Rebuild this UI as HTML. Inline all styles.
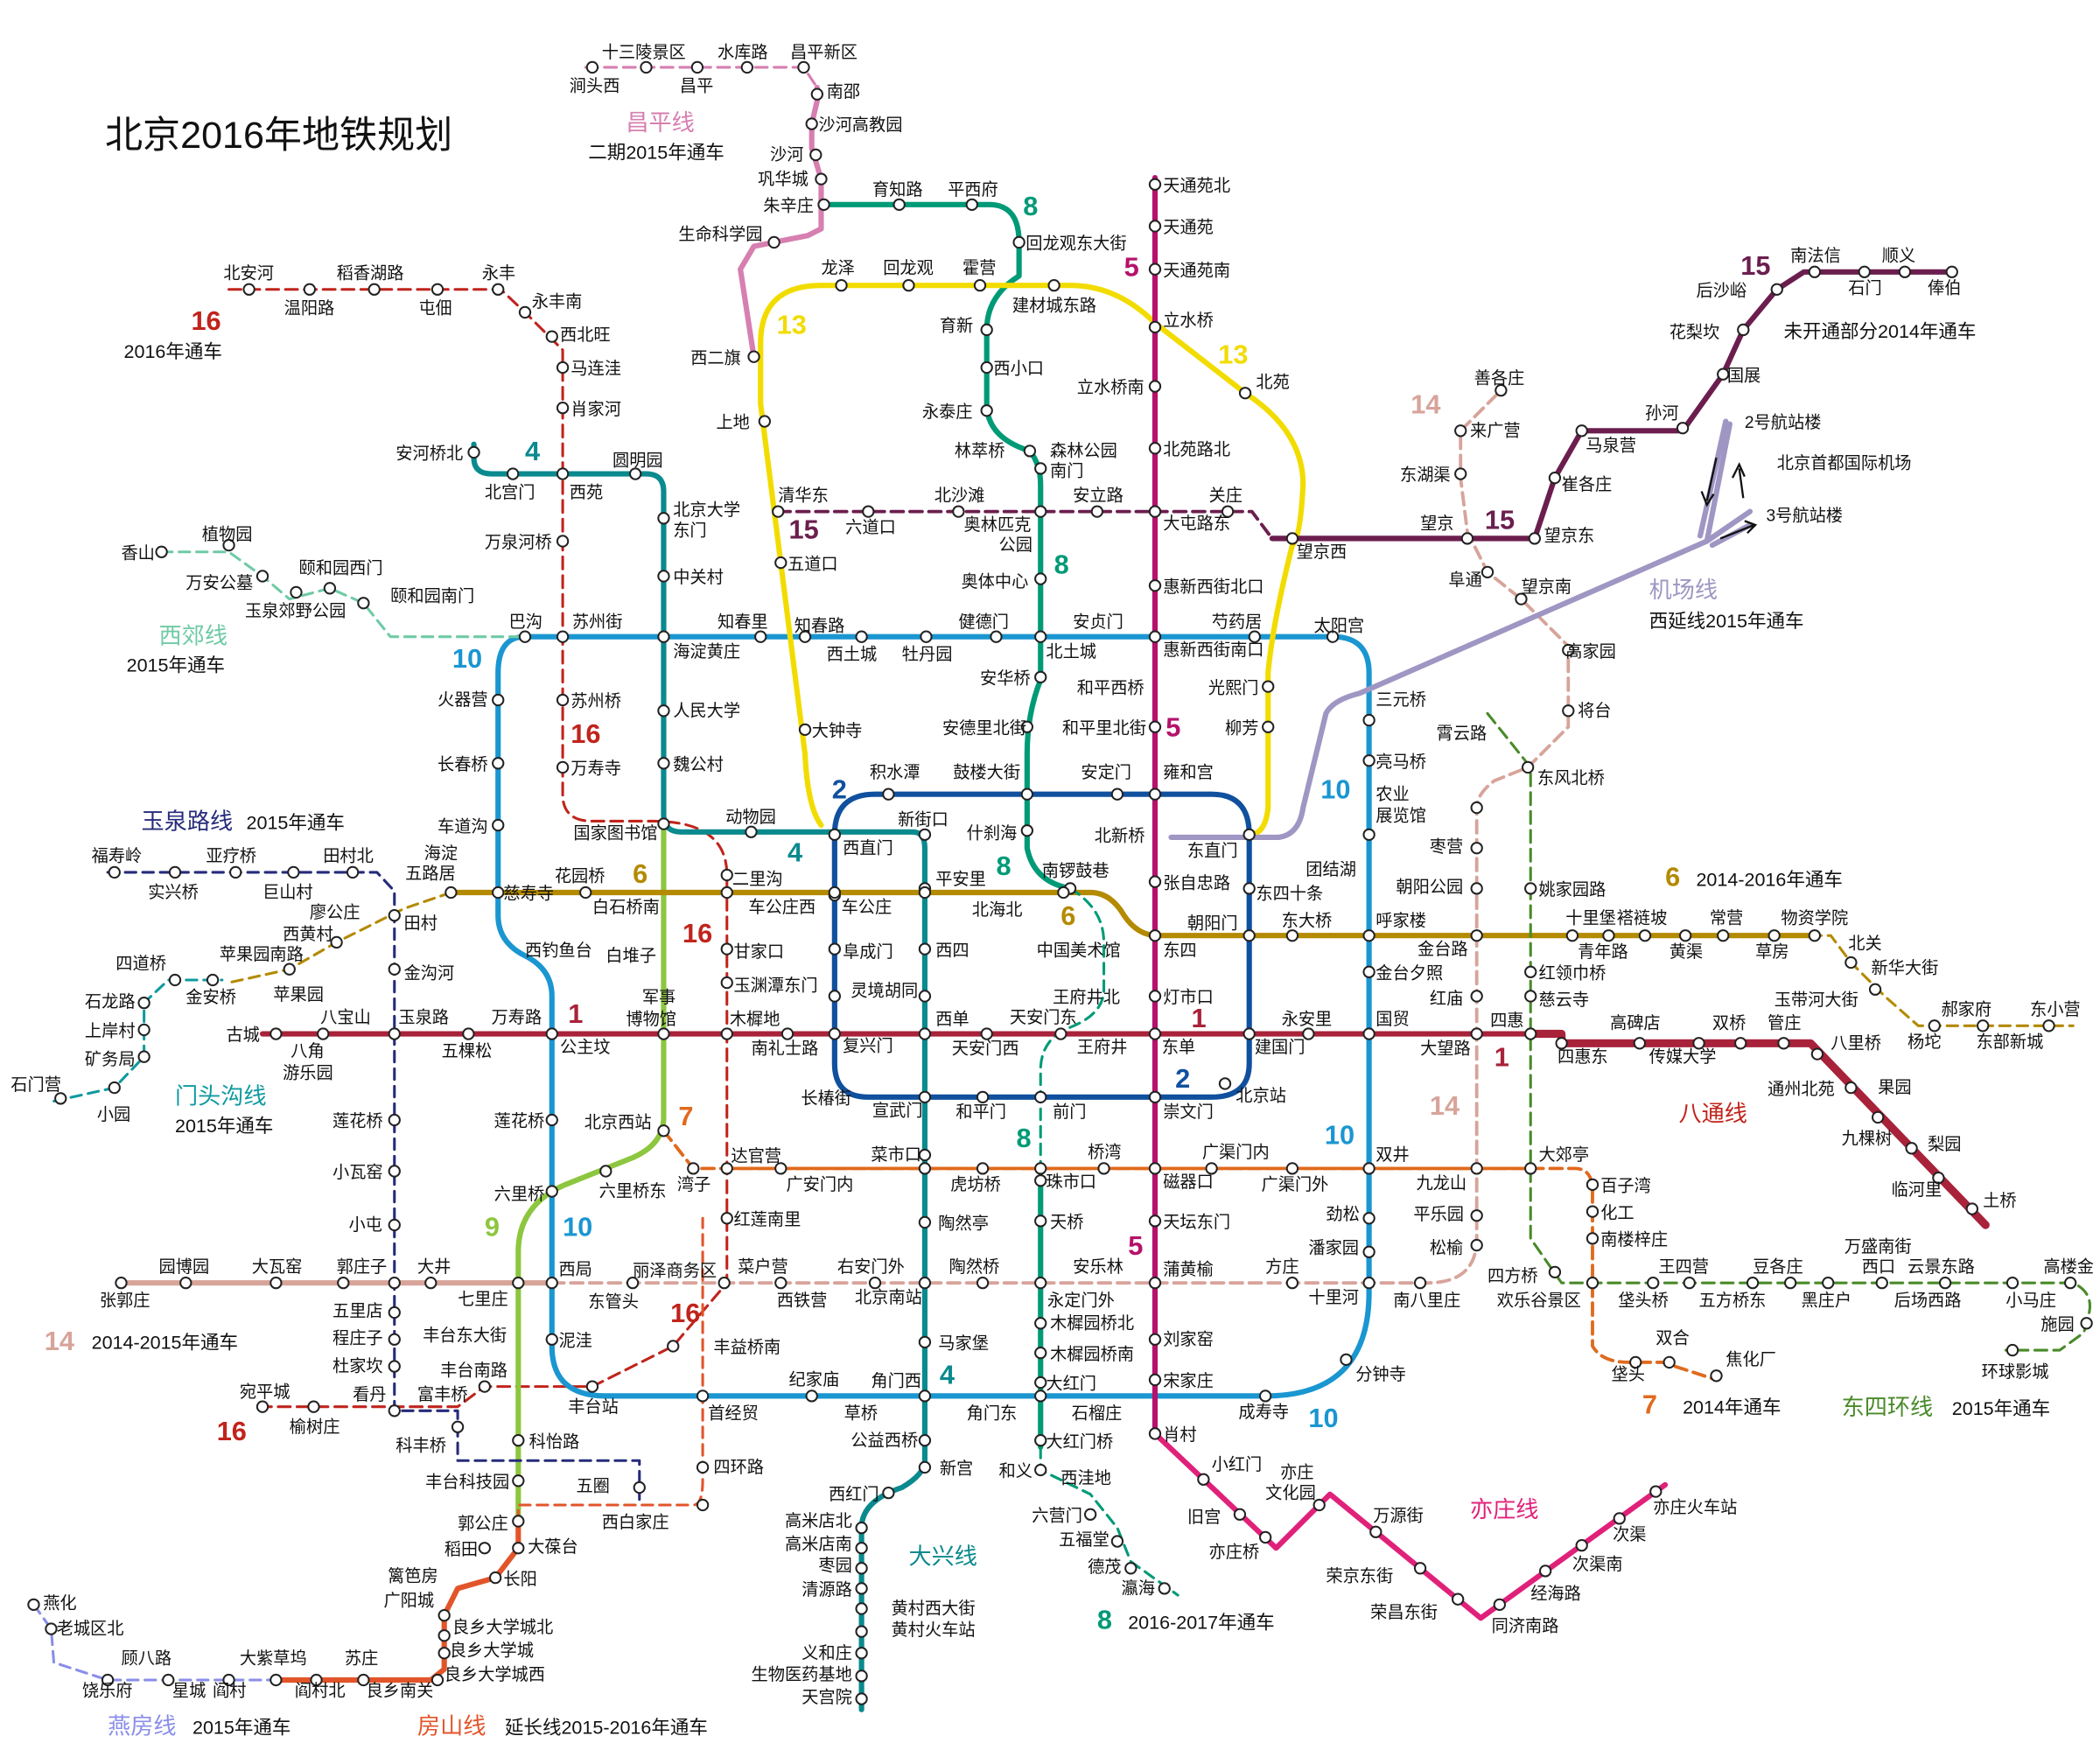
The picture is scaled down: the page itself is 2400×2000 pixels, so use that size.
<!DOCTYPE html>
<html><head><meta charset="utf-8"><style>
html,body{margin:0;padding:0;background:#fff}
svg{display:block}
text{font-family:"Liberation Sans","Noto Sans CJK SC",sans-serif;font-size:12.5px;fill:#111}
.s{fill:#fff;stroke:#222;stroke-width:1.3}
.n text{font-weight:bold;font-size:20px}
.l{fill:none;stroke-linejoin:round;stroke-linecap:round}
text.big{font-size:17px}
.e{text-anchor:end}
</style></head><body>
<svg width="2400" height="2000" viewBox="0 0 1560 1300" xmlns="http://www.w3.org/2000/svg">
<rect width="1560" height="1300" fill="#fff"/>
<text x="78" y="110" style="font-size:28px">北京2016年地铁规划</text>

<!-- 14 dashed middle/east -->
<path class="l" stroke="#d7a49a" stroke-width="2.5" stroke-dasharray="9,5" d="M410,953 H1060 Q1097,953 1097,920 V600 Q1097,590 1110,580 L1135,570 L1165,540 V480 L1130,445 L1105,425 L1090,395 L1085,355 V320 L1115,290"/>
<path class="l" stroke="#d7a49a" stroke-width="4" d="M90,953 H410"/>
<!-- 16 dashed -->
<path class="l" stroke="#c0241c" stroke-width="2" stroke-dasharray="9,5" d="M170,215 H372 L390,232 L418,260 V590 Q418,610 440,610 H485 Q540,610 540,650 V953 L500,1000 L440,1030 H360 L340,1045 H195"/>
<!-- 10 loop -->
<path class="l" stroke="#1a96d1" stroke-width="4" d="M390,473 H990 Q1017,473 1017,500 V960 Q1017,1037 940,1037 H450 Q410,1037 410,1000 V740 Q410,720 390,710 Q370,700 370,680 V500 Q370,473 390,473"/>
<!-- 2 loop -->
<path class="l" stroke="#10509e" stroke-width="4" d="M650,590 H900 Q928,590 928,620 V790 Q928,815 900,815 H645 Q620,815 620,790 V620 Q620,590 650,590"/>
<!-- 9 -->
<path class="l" stroke="#8dc63f" stroke-width="4" d="M493,612 V830 Q493,850 470,860 L420,880 Q385,895 385,930 V1130"/>
<!-- 4 -->
<path class="l" stroke="#0a8a8e" stroke-width="4" d="M352,330 V340 Q352,352 365,352 H480 Q493,352 493,365 V605 Q493,618 506,618 H678 Q687,618 687,630 V1085 Q687,1095 670,1105 Q640,1115 640,1135 V1270"/>
<!-- 6 -->
<path class="l" stroke="#b38a00" stroke-width="4" d="M335,663 H810 Q825,663 835,680 Q845,695 860,695 H1345"/>
<path class="l" stroke="#b38a00" stroke-width="2" stroke-dasharray="8,5" d="M335,663 L300,675 L250,700 L215,720 L170,730 M1345,695 H1360 L1375,715 L1400,740 L1425,762 H1540"/>
<!-- 7 -->
<path class="l" stroke="#e06a1e" stroke-width="2.5" stroke-dasharray="9,5" d="M493,840 L515,868 H1170 Q1183,868 1183,885 V1000 Q1190,1012 1210,1012 H1235 L1275,1025"/>
<path class="l" stroke="#e06a1e" stroke-width="2.5" d="M540,868 H1137"/>
<!-- 8 -->
<path class="l" stroke="#009a77" stroke-width="4" d="M612,152 H735 Q757,152 757,180 V205 Q733,220 733,245 V300 Q733,325 765,335 Q773,345 773,360 V505 Q763,530 763,560 V630 Q768,655 795,660"/>
<path class="l" stroke="#009a77" stroke-width="2" stroke-dasharray="8,5" d="M795,660 Q820,675 820,700 V735 Q820,755 790,765 Q773,775 773,795 V877"/>
<path class="l" stroke="#009a77" stroke-width="4" d="M773,877 V1075"/>
<path class="l" stroke="#009a77" stroke-width="2" stroke-dasharray="8,5" d="M773,1075 V1092 L810,1110 L830,1135 L840,1160 L875,1185"/>
<!-- 13 -->
<path class="l" stroke="#f2dc00" stroke-width="4" d="M610,613 Q600,600 598,560 L580,418 L565,300 V255 Q565,212 610,212 H795 Q830,212 858,240 L925,292 Q968,320 968,360 Q966,400 960,405 Q945,465 942,500 V600 Q940,620 928,620"/>
<!-- 5 -->
<path class="l" stroke="#b5126b" stroke-width="4" d="M858,132 V1065"/>
<!-- yizhuang -->
<path class="l" stroke="#e0217a" stroke-width="4" d="M858,1065 L948,1150 L988,1110 L1100,1202 L1237,1103"/>
<!-- 1 -->
<path class="l" stroke="#a8223a" stroke-width="4" d="M195,768 H1137"/>
<path class="l" stroke="#a8223a" stroke-width="6" d="M1137,768 H1160 V775 H1345 L1475,910"/>
<!-- 15 -->
<path class="l" stroke="#6b1e4e" stroke-width="2.5" stroke-dasharray="9,5" d="M578,380 H930 L945,400"/>
<path class="l" stroke="#6b1e4e" stroke-width="4" d="M945,400 H1140 L1155,355 L1175,320 H1250 L1280,278 L1295,245 L1320,215 L1340,202 H1450"/>
<!-- airport -->
<path class="l" stroke="#9f96c3" stroke-width="4" d="M870,622 H950 Q965,620 968,600 L985,530 Q990,520 1010,515 L1268,402 L1300,380 M1268,402 L1285,315"/>
<path class="l" stroke="#9f96c3" stroke-width="4" d="M1263,398 L1282,313 M1272,405 L1300,390"/>
<path d="M1275,340 L1268,372 M1264,365 L1268,375 L1273,367 M1295,370 L1292,348 M1287,355 L1292,345 L1296,354 M1278,400 L1303,390 M1296,387 L1304,390 L1298,396" stroke="#111" stroke-width="1.5" fill="none"/>
<!-- changping -->
<path class="l" stroke="#d67fb0" stroke-width="2" stroke-dasharray="9,5" d="M435,50 H597 L607,65"/>
<path class="l" stroke="#d67fb0" stroke-width="4" d="M607,65 V75 L603,92 V110 L610,133 V170 L600,175 L560,183 L550,200 L560,265"/>
<!-- xijiao -->
<path class="l" stroke="#6fcaa5" stroke-width="2" stroke-dasharray="8,5" d="M120,410 H170 L195,428 L215,445 L245,437 L270,448 L290,473 H388"/>
<!-- yuquan -->
<path class="l" stroke="#262b7a" stroke-width="2" stroke-dasharray="8,5" d="M80,648 H280 L293,662 V1048 H340 V1085 H475 V1115"/>
<!-- mentougou -->
<path class="l" stroke="#109aa0" stroke-width="2" stroke-dasharray="8,5" d="M40,818 L85,808 L107,785 V745 L125,728 H165"/>
<!-- fangshan -->
<path class="l" stroke="#e2552a" stroke-width="4" d="M385,1130 V1150 L368,1172 L340,1180 L330,1200 V1240 L320,1248 H205"/>
<path class="l" stroke="#e2552a" stroke-width="2" stroke-dasharray="8,5" d="M385,1130 V1118 Q390,1118 515,1118 Q522,1118 522,1100 V905"/>
<!-- yanfang -->
<path class="l" stroke="#8a8ee8" stroke-width="2" stroke-dasharray="8,5" d="M25,1192 L38,1210 L40,1235 L80,1248 H205"/>
<!-- east 4 ring -->
<path class="l" stroke="#4a8a2a" stroke-width="2" stroke-dasharray="9,5" d="M1105,530 L1137,570 V920 L1160,953 H1540 Q1555,960 1552,975 L1548,990 L1530,1003 H1490"/>

<!-- STATIONS -->
<g class="s">
<circle cx="440" cy="50" r="4"/><circle cx="480" cy="50" r="4"/><circle cx="518" cy="50" r="4"/><circle cx="555" cy="50" r="4"/><circle cx="597" cy="50" r="4"/>
<circle cx="607" cy="70" r="4"/><circle cx="603" cy="92" r="4"/><circle cx="606" cy="115" r="4"/><circle cx="610" cy="133" r="4"/><circle cx="612" cy="152" r="4"/><circle cx="575" cy="180" r="4"/>
<circle cx="668" cy="152" r="4"/><circle cx="722" cy="152" r="4"/><circle cx="757" cy="180" r="4"/>
<circle cx="185" cy="215" r="4"/><circle cx="230" cy="215" r="4"/><circle cx="278" cy="215" r="4"/><circle cx="325" cy="215" r="4"/><circle cx="370" cy="215" r="4"/><circle cx="390" cy="232" r="4"/><circle cx="410" cy="250" r="4"/><circle cx="418" cy="273" r="4"/><circle cx="418" cy="303" r="4"/><circle cx="418" cy="402" r="4"/><circle cx="418" cy="520" r="4"/><circle cx="418" cy="570" r="4"/>
<circle cx="352" cy="336" r="4"/><circle cx="381" cy="352" r="4"/><circle cx="418" cy="352" r="4"/><circle cx="472" cy="352" r="4"/><circle cx="493" cy="385" r="4"/><circle cx="493" cy="428" r="4"/><circle cx="493" cy="528" r="4"/><circle cx="493" cy="567" r="4"/><circle cx="493" cy="612" r="4"/><circle cx="558" cy="618" r="4"/><circle cx="687" cy="620" r="4"/>
<circle cx="625" cy="212" r="4"/><circle cx="675" cy="212" r="4"/><circle cx="728" cy="212" r="4"/><circle cx="783" cy="212" r="4"/><circle cx="858" cy="243" r="4"/><circle cx="925" cy="292" r="4"/><circle cx="960" cy="400" r="4"/><circle cx="560" cy="265" r="4"/><circle cx="568" cy="313" r="4"/><circle cx="578" cy="380" r="4"/><circle cx="580" cy="418" r="4"/><circle cx="598" cy="542" r="4"/>
<circle cx="733" cy="245" r="4"/><circle cx="733" cy="273" r="4"/><circle cx="733" cy="305" r="4"/><circle cx="765" cy="335" r="4"/><circle cx="773" cy="348" r="4"/><circle cx="773" cy="380" r="4"/><circle cx="773" cy="430" r="4"/><circle cx="773" cy="473" r="4"/><circle cx="773" cy="503" r="4"/><circle cx="763" cy="540" r="4"/><circle cx="763" cy="590" r="4"/><circle cx="763" cy="617" r="4"/><circle cx="795" cy="660" r="4"/>
<circle cx="645" cy="380" r="4"/><circle cx="712" cy="380" r="4"/><circle cx="815" cy="380" r="4"/><circle cx="858" cy="380" r="4"/><circle cx="912" cy="380" r="4"/><circle cx="1090" cy="400" r="4"/><circle cx="1140" cy="400" r="4"/><circle cx="1155" cy="355" r="4"/><circle cx="1175" cy="320" r="4"/><circle cx="1250" cy="318" r="4"/><circle cx="1280" cy="278" r="4"/><circle cx="1295" cy="245" r="4"/><circle cx="1320" cy="215" r="4"/><circle cx="1348" cy="202" r="4"/><circle cx="1385" cy="202" r="4"/><circle cx="1415" cy="202" r="4"/><circle cx="1450" cy="202" r="4"/>
<circle cx="858" cy="137" r="4"/><circle cx="858" cy="168" r="4"/><circle cx="858" cy="200" r="4"/><circle cx="858" cy="287" r="4"/><circle cx="858" cy="333" r="4"/><circle cx="858" cy="435" r="4"/><circle cx="858" cy="473" r="4"/><circle cx="858" cy="540" r="4"/><circle cx="858" cy="590" r="4"/><circle cx="858" cy="655" r="4"/><circle cx="858" cy="695" r="4"/><circle cx="858" cy="740" r="4"/><circle cx="858" cy="768" r="4"/><circle cx="858" cy="815" r="4"/><circle cx="858" cy="868" r="4"/><circle cx="858" cy="907" r="4"/><circle cx="858" cy="953" r="4"/><circle cx="858" cy="995" r="4"/><circle cx="858" cy="1025" r="4"/><circle cx="858" cy="1065" r="4"/>
<circle cx="894" cy="1099" r="4"/><circle cx="921" cy="1125" r="4"/><circle cx="940" cy="1142" r="4"/><circle cx="980" cy="1118" r="4"/><circle cx="1022" cy="1138" r="4"/><circle cx="1055" cy="1165" r="4"/><circle cx="1083" cy="1188" r="4"/><circle cx="1114" cy="1192" r="4"/><circle cx="1148" cy="1167" r="4"/><circle cx="1175" cy="1148" r="4"/><circle cx="1203" cy="1128" r="4"/><circle cx="1230" cy="1108" r="4"/>
<circle cx="205" cy="768" r="4"/><circle cx="240" cy="768" r="4"/><circle cx="293" cy="768" r="4"/><circle cx="348" cy="768" r="4"/><circle cx="410" cy="768" r="4"/><circle cx="493" cy="768" r="4"/><circle cx="540" cy="768" r="4"/><circle cx="585" cy="768" r="4"/><circle cx="620" cy="768" r="4"/><circle cx="687" cy="768" r="4"/><circle cx="733" cy="768" r="4"/><circle cx="788" cy="768" r="4"/><circle cx="928" cy="768" r="4"/><circle cx="972" cy="768" r="4"/><circle cx="1017" cy="768" r="4"/><circle cx="1097" cy="768" r="4"/><circle cx="1137" cy="768" r="4"/>
<circle cx="1160" cy="775" r="4"/><circle cx="1218" cy="775" r="4"/><circle cx="1262" cy="775" r="4"/><circle cx="1293" cy="775" r="4"/><circle cx="1325" cy="775" r="4"/><circle cx="1350" cy="783" r="4"/><circle cx="1375" cy="808" r="4"/><circle cx="1395" cy="830" r="4"/><circle cx="1420" cy="853" r="4"/><circle cx="1440" cy="875" r="4"/><circle cx="1465" cy="898" r="4"/>
<circle cx="390" cy="473" r="4"/><circle cx="418" cy="473" r="4"/><circle cx="493" cy="473" r="4"/><circle cx="565" cy="473" r="4"/><circle cx="598" cy="473" r="4"/><circle cx="640" cy="473" r="4"/><circle cx="688" cy="473" r="4"/><circle cx="740" cy="473" r="4"/><circle cx="932" cy="473" r="4"/><circle cx="990" cy="473" r="4"/>
<circle cx="370" cy="520" r="4"/><circle cx="370" cy="567" r="4"/><circle cx="370" cy="613" r="4"/><circle cx="370" cy="663" r="4"/><circle cx="410" cy="832" r="4"/><circle cx="410" cy="885" r="4"/><circle cx="410" cy="953" r="4"/><circle cx="410" cy="995" r="4"/><circle cx="440" cy="1030" r="4"/><circle cx="522" cy="1037" r="4"/><circle cx="603" cy="1037" r="4"/><circle cx="687" cy="1037" r="4"/><circle cx="773" cy="1037" r="4"/><circle cx="940" cy="1037" r="4"/><circle cx="1000" cy="1010" r="4"/>
<circle cx="1017" cy="535" r="4"/><circle cx="1017" cy="565" r="4"/><circle cx="1017" cy="620" r="4"/><circle cx="1017" cy="695" r="4"/><circle cx="1017" cy="722" r="4"/><circle cx="1017" cy="868" r="4"/><circle cx="1017" cy="905" r="4"/><circle cx="1017" cy="930" r="4"/><circle cx="1017" cy="953" r="4"/>
<circle cx="942" cy="510" r="4"/><circle cx="942" cy="540" r="4"/><circle cx="928" cy="620" r="4"/><circle cx="928" cy="660" r="4"/><circle cx="928" cy="695" r="4"/><circle cx="620" cy="620" r="4"/><circle cx="620" cy="665" r="4"/><circle cx="620" cy="705" r="4"/><circle cx="620" cy="740" r="4"/><circle cx="660" cy="590" r="4"/><circle cx="830" cy="590" r="4"/><circle cx="730" cy="815" r="4"/><circle cx="773" cy="815" r="4"/><circle cx="910" cy="805" r="4"/>
<circle cx="687" cy="660" r="4"/><circle cx="687" cy="705" r="4"/><circle cx="687" cy="740" r="4"/><circle cx="687" cy="815" r="4"/><circle cx="687" cy="858" r="4"/><circle cx="687" cy="908" r="4"/><circle cx="687" cy="953" r="4"/><circle cx="687" cy="997" r="4"/><circle cx="687" cy="1070" r="4"/><circle cx="687" cy="1090" r="4"/><circle cx="660" cy="1109" r="4"/><circle cx="640" cy="1135" r="4"/><circle cx="640" cy="1150" r="4"/><circle cx="640" cy="1165" r="4"/><circle cx="640" cy="1180" r="4"/><circle cx="640" cy="1195" r="4"/><circle cx="640" cy="1212" r="4"/><circle cx="640" cy="1228" r="4"/><circle cx="640" cy="1245" r="4"/><circle cx="640" cy="1262" r="4"/>
<circle cx="335" cy="663" r="4"/><circle cx="435" cy="663" r="4"/><circle cx="540" cy="663" r="4"/><circle cx="620" cy="663" r="4"/><circle cx="687" cy="663" r="4"/><circle cx="790" cy="663" r="4"/><circle cx="960" cy="695" r="4"/><circle cx="1097" cy="695" r="4"/><circle cx="1168" cy="695" r="4"/><circle cx="1195" cy="695" r="4"/><circle cx="1222" cy="695" r="4"/><circle cx="1252" cy="695" r="4"/><circle cx="1280" cy="695" r="4"/><circle cx="1318" cy="695" r="4"/><circle cx="1348" cy="695" r="4"/><circle cx="1375" cy="715" r="4"/><circle cx="1393" cy="735" r="4"/><circle cx="1437" cy="762" r="4"/><circle cx="1473" cy="762" r="4"/><circle cx="1522" cy="762" r="4"/>
<circle cx="293" cy="680" r="4"/><circle cx="293" cy="720" r="4"/><circle cx="293" cy="832" r="4"/><circle cx="293" cy="870" r="4"/><circle cx="293" cy="910" r="4"/><circle cx="293" cy="953" r="4"/><circle cx="293" cy="975" r="4"/><circle cx="293" cy="995" r="4"/><circle cx="293" cy="1015" r="4"/><circle cx="293" cy="1048" r="4"/><circle cx="340" cy="1060" r="4"/><circle cx="475" cy="1105" r="4"/>
<circle cx="85" cy="648" r="4"/><circle cx="130" cy="648" r="4"/><circle cx="175" cy="648" r="4"/><circle cx="218" cy="648" r="4"/><circle cx="262" cy="648" r="4"/><circle cx="250" cy="700" r="4"/><circle cx="215" cy="720" r="4"/>
<circle cx="120" cy="410" r="4"/><circle cx="170" cy="405" r="4"/><circle cx="195" cy="428" r="4"/><circle cx="220" cy="440" r="4"/><circle cx="245" cy="437" r="4"/><circle cx="270" cy="448" r="4"/>
<circle cx="45" cy="816" r="4"/><circle cx="85" cy="808" r="4"/><circle cx="107" cy="785" r="4"/><circle cx="107" cy="765" r="4"/><circle cx="107" cy="745" r="4"/><circle cx="130" cy="728" r="4"/><circle cx="158" cy="728" r="4"/>
<circle cx="90" cy="953" r="4"/><circle cx="138" cy="953" r="4"/><circle cx="205" cy="953" r="4"/><circle cx="255" cy="953" r="4"/><circle cx="320" cy="953" r="4"/><circle cx="385" cy="953" r="4"/><circle cx="470" cy="953" r="4"/><circle cx="538" cy="953" r="4"/><circle cx="580" cy="953" r="4"/><circle cx="650" cy="953" r="4"/><circle cx="730" cy="953" r="4"/><circle cx="773" cy="953" r="4"/><circle cx="960" cy="953" r="4"/><circle cx="1055" cy="953" r="4"/>
<circle cx="1097" cy="600" r="4"/><circle cx="1097" cy="630" r="4"/><circle cx="1097" cy="660" r="4"/><circle cx="1097" cy="740" r="4"/><circle cx="1097" cy="868" r="4"/><circle cx="1097" cy="903" r="4"/><circle cx="1097" cy="925" r="4"/><circle cx="1135" cy="570" r="4"/><circle cx="1165" cy="528" r="4"/><circle cx="1165" cy="483" r="4"/><circle cx="1130" cy="445" r="4"/><circle cx="1105" cy="425" r="4"/><circle cx="1085" cy="352" r="4"/><circle cx="1085" cy="320" r="4"/><circle cx="1115" cy="290" r="4"/>
<circle cx="1137" cy="660" r="4"/><circle cx="1137" cy="722" r="4"/><circle cx="1137" cy="740" r="4"/><circle cx="1137" cy="868" r="4"/><circle cx="1155" cy="945" r="4"/><circle cx="1183" cy="953" r="4"/><circle cx="1228" cy="953" r="4"/><circle cx="1255" cy="953" r="4"/><circle cx="1302" cy="953" r="4"/><circle cx="1330" cy="953" r="4"/><circle cx="1358" cy="953" r="4"/><circle cx="1398" cy="953" r="4"/><circle cx="1445" cy="953" r="4"/><circle cx="1495" cy="953" r="4"/><circle cx="1538" cy="953" r="4"/><circle cx="1550" cy="983" r="4"/><circle cx="1495" cy="1003" r="4"/>
<circle cx="1183" cy="880" r="4"/><circle cx="1183" cy="900" r="4"/><circle cx="1183" cy="920" r="4"/><circle cx="1215" cy="1012" r="4"/><circle cx="1240" cy="1012" r="4"/><circle cx="1275" cy="1022" r="4"/>
<circle cx="540" cy="650" r="4"/><circle cx="540" cy="705" r="4"/><circle cx="540" cy="730" r="4"/><circle cx="540" cy="868" r="4"/><circle cx="540" cy="905" r="4"/><circle cx="500" cy="1000" r="4"/><circle cx="360" cy="1030" r="4"/><circle cx="233" cy="1045" r="4"/><circle cx="195" cy="1045" r="4"/>
<circle cx="580" cy="868" r="4"/><circle cx="687" cy="868" r="4"/><circle cx="730" cy="868" r="4"/><circle cx="773" cy="868" r="4"/><circle cx="820" cy="868" r="4"/><circle cx="900" cy="868" r="4"/><circle cx="960" cy="868" r="4"/><circle cx="515" cy="868" r="4"/><circle cx="493" cy="840" r="4"/><circle cx="450" cy="870" r="4"/>
<circle cx="773" cy="877" r="4"/><circle cx="773" cy="907" r="4"/><circle cx="773" cy="983" r="4"/><circle cx="773" cy="1005" r="4"/><circle cx="773" cy="1027" r="4"/><circle cx="773" cy="1070" r="4"/><circle cx="773" cy="1092" r="4"/><circle cx="810" cy="1125" r="4"/><circle cx="830" cy="1145" r="4"/><circle cx="840" cy="1165" r="4"/><circle cx="865" cy="1180" r="4"/>
<circle cx="385" cy="1070" r="4"/><circle cx="385" cy="1100" r="4"/><circle cx="385" cy="1130" r="4"/><circle cx="385" cy="1150" r="4"/><circle cx="360" cy="1150" r="4"/><circle cx="368" cy="1172" r="4"/><circle cx="330" cy="1200" r="4"/><circle cx="330" cy="1215" r="4"/><circle cx="330" cy="1228" r="4"/><circle cx="325" cy="1248" r="4"/><circle cx="270" cy="1248" r="4"/><circle cx="235" cy="1248" r="4"/><circle cx="205" cy="1248" r="4"/><circle cx="170" cy="1248" r="4"/><circle cx="125" cy="1248" r="4"/><circle cx="80" cy="1248" r="4"/><circle cx="38" cy="1210" r="4"/><circle cx="25" cy="1192" r="4"/><circle cx="522" cy="1090" r="4"/><circle cx="522" cy="1118" r="4"/>
</g>

<g class="n">
<text x="760" y="160" style="fill:#009a77">8</text>
<text x="835" y="205" style="fill:#b5126b">5</text>
<text x="905" y="270" style="fill:#f2dc00">13</text>
<text x="577" y="248" style="fill:#f2dc00">13</text>
<text x="142" y="245" style="fill:#c0241c">16</text>
<text x="390" y="342" style="fill:#0a8a8e">4</text>
<text x="586" y="400" style="fill:#6b1e4e">15</text>
<text x="1103" y="393" style="fill:#6b1e4e">15</text>
<text x="1293" y="204" style="fill:#6b1e4e">15</text>
<text x="1048" y="307" style="fill:#d7a49a">14</text>
<text x="783" y="426" style="fill:#009a77">8</text>
<text x="336" y="496" style="fill:#1a96d1">10</text>
<text x="424" y="552" style="fill:#c0241c">16</text>
<text x="866" y="547" style="fill:#b5126b">5</text>
<text x="618" y="593" style="fill:#10509e">2</text>
<text x="585" y="640" style="fill:#0a8a8e">4</text>
<text x="981" y="593" style="fill:#1a96d1">10</text>
<text x="740" y="650" style="fill:#009a77">8</text>
<text x="470" y="656" style="fill:#b38a00">6</text>
<text x="788" y="687" style="fill:#b38a00">6</text>
<text x="1237" y="658" style="fill:#b38a00">6</text>
<text x="507" y="700" style="fill:#c0241c">16</text>
<text x="422" y="760" style="fill:#a8223a">1</text>
<text x="885" y="763" style="fill:#a8223a">1</text>
<text x="1110" y="792" style="fill:#a8223a">1</text>
<text x="873" y="808" style="fill:#10509e">2</text>
<text x="1062" y="828" style="fill:#d7a49a">14</text>
<text x="504" y="836" style="fill:#e06a1e">7</text>
<text x="755" y="852" style="fill:#009a77">8</text>
<text x="984" y="850" style="fill:#1a96d1">10</text>
<text x="838" y="932" style="fill:#b5126b">5</text>
<text x="360" y="918" style="fill:#8dc63f">9</text>
<text x="418" y="918" style="fill:#1a96d1">10</text>
<text x="498" y="982" style="fill:#c0241c">16</text>
<text x="698" y="1028" style="fill:#0a8a8e">4</text>
<text x="972" y="1060" style="fill:#1a96d1">10</text>
<text x="33" y="1003" style="fill:#d7a49a">14</text>
<text x="161" y="1070" style="fill:#c0241c">16</text>
<text x="1220" y="1050" style="fill:#e06a1e">7</text>
<text x="815" y="1210" style="fill:#009a77">8</text>
</g>

<text x="465" y="97" class="big" style="fill:#d67fb0">昌平线</text>
<text x="437" y="118" style="font-size:14px">二期2015年通车</text>
<text x="92" y="266" style="font-size:14px">2016年通车</text>
<text x="1325" y="251" style="font-size:14px">未开通部分2014年通车</text>
<text x="1225" y="444" class="big" style="fill:#9f96c3">机场线</text>
<text x="1225" y="466" style="font-size:14px">西延线2015年通车</text>
<text x="118" y="478" class="big" style="fill:#6fcaa5">西郊线</text>
<text x="94" y="499" style="font-size:14px">2015年通车</text>
<text x="105" y="616" class="big" style="fill:#262b7a">玉泉路线</text>
<text x="183" y="616" style="font-size:14px">2015年通车</text>
<text x="1260" y="658" style="font-size:14px">2014-2016年通车</text>
<text x="130" y="820" class="big" style="fill:#109aa0">门头沟线</text>
<text x="130" y="841" style="font-size:14px">2015年通车</text>
<text x="1247" y="833" class="big" style="fill:#c0241c">八通线</text>
<text x="68" y="1002" style="font-size:14px">2014-2015年通车</text>
<text x="1250" y="1050" style="font-size:14px">2014年通车</text>
<text x="1368" y="1051" class="big" style="fill:#4a8a2a">东四环线</text>
<text x="1450" y="1051" style="font-size:14px">2015年通车</text>
<text x="1092" y="1127" class="big" style="fill:#e0217a">亦庄线</text>
<text x="675" y="1162" class="big" style="fill:#0a8a8e">大兴线</text>
<text x="838" y="1210" style="font-size:14px">2016-2017年通车</text>
<text x="80" y="1288" class="big" style="fill:#8a8ee8">燕房线</text>
<text x="143" y="1288" style="font-size:14px">2015年通车</text>
<text x="310" y="1288" class="big" style="fill:#e2552a">房山线</text>
<text x="375" y="1288" style="font-size:14px">延长线2015-2016年通车</text>

<g>
<text x="447" y="43">十三陵景区</text><text x="533" y="43">水库路</text><text x="587" y="43">昌平新区</text>
<text x="423" y="68">涧头西</text><text x="505" y="68">昌平</text>
<text x="614" y="72">南邵</text><text x="608" y="97">沙河高教园</text><text x="572" y="119">沙河</text><text x="563" y="137">巩华城</text><text x="567" y="157">朱辛庄</text><text x="504" y="178">生命科学园</text>
<text x="648" y="145">育知路</text><text x="704" y="145">平西府</text><text x="762" y="185">回龙观东大街</text>
<text x="610" y="203">龙泽</text><text x="656" y="203">回龙观</text><text x="715" y="203">霍营</text><text x="752" y="231">建材城东路</text>
<text x="166" y="207">北安河</text><text x="250" y="207">稻香湖路</text><text x="358" y="207">永丰</text>
<text x="211" y="233">温阳路</text><text x="311" y="233">屯佃</text><text x="395" y="228">永丰南</text><text x="416" y="253">西北旺</text><text x="424" y="278">马连洼</text><text x="424" y="308">肖家河</text>
<text x="864" y="142">天通苑北</text><text x="864" y="173">天通苑</text><text x="864" y="205">天通苑南</text><text x="864" y="242">立水桥</text><text x="800" y="292">立水桥南</text><text x="933" y="288">北苑</text><text x="864" y="338">北苑路北</text>
<text x="698" y="246">育新</text><text x="738" y="278">西小口</text><text x="685" y="310">永泰庄</text><text x="709" y="339">林萃桥</text><text x="780" y="339">森林公园</text><text x="780" y="354">南门</text>
<text x="513" y="270">西二旗</text><text x="532" y="318">上地</text>
<text x="294" y="341">安河桥北</text><text x="360" y="370">北宫门</text><text x="423" y="370">西苑</text><text x="455" y="346">圆明园</text>
<text x="500" y="383">北京大学</text><text x="500" y="398">东门</text><text x="360" y="407">万泉河桥</text><text x="500" y="433">中关村</text>
<text x="578" y="372">清华东</text><text x="628" y="396">六道口</text><text x="585" y="423">五道口</text>
<text x="694" y="372">北沙滩</text><text x="716" y="394">奥林匹克</text><text x="742" y="409">公园</text><text x="797" y="372">安立路</text><text x="864" y="393">大屯路东</text><text x="898" y="372">关庄</text><text x="963" y="414">望京西</text>
<text x="1040" y="357">东湖渠</text><text x="1092" y="324">来广营</text><text x="1095" y="285">善各庄</text><text x="1055" y="393">望京</text><text x="1076" y="435">阜通</text><text x="1130" y="440">望京南</text><text x="1163" y="488">高家园</text><text x="1172" y="532">将台</text><text x="1142" y="582">东风北桥</text><text x="1067" y="549">霄云路</text>
<text x="1147" y="402">望京东</text><text x="1160" y="364">崔各庄</text><text x="1178" y="335">马泉营</text><text x="1222" y="311">孙河</text><text x="1283" y="283">国展</text><text x="1240" y="251">花梨坎</text><text x="1260" y="220">后沙峪</text><text x="1330" y="194">南法信</text><text x="1373" y="218">石门</text><text x="1398" y="194">顺义</text><text x="1432" y="218">俸伯</text>
<text x="1296" y="318">2号航站楼</text><text x="1320" y="348">北京首都国际机场</text><text x="1312" y="387">3号航站楼</text>
<text x="714" y="436">奥体中心</text><text x="90" y="415">香山</text><text x="150" y="401">植物园</text><text x="138" y="437">万安公墓</text><text x="222" y="426">颐和园西门</text><text x="182" y="458">玉泉郊野公园</text><text x="290" y="447">颐和园南门</text>
<text x="378" y="466">巴沟</text><text x="425" y="466">苏州街</text><text x="500" y="488">海淀黄庄</text><text x="533" y="466">知春里</text><text x="590" y="469">知春路</text><text x="614" y="490">西土城</text><text x="670" y="490">牡丹园</text><text x="712" y="466">健德门</text><text x="777" y="488">北土城</text><text x="797" y="466">安贞门</text><text x="864" y="487">惠新西街南口</text><text x="900" y="466">芍药居</text><text x="976" y="469">太阳宫</text>
<text x="325" y="524">火器营</text><text x="325" y="572">长春桥</text><text x="325" y="618">车道沟</text><text x="424" y="525">苏州桥</text><text x="424" y="575">万寿寺</text><text x="500" y="532">人民大学</text><text x="500" y="572">魏公村</text><text x="603" y="547">大钟寺</text>
<text x="728" y="508">安华桥</text><text x="700" y="545">安德里北街</text><text x="800" y="515">和平西桥</text><text x="789" y="545">和平里北街</text><text x="864" y="440">惠新西街北口</text><text x="935" y="515" class="e">光熙门</text><text x="935" y="545" class="e">柳芳</text>
<text x="1022" y="524">三元桥</text><text x="1022" y="570">亮马桥</text><text x="1022" y="594">农业</text><text x="1022" y="610">展览馆</text><text x="970" y="650">团结湖</text><text x="1037" y="663">朝阳公园</text><text x="1062" y="633">枣营</text><text x="1143" y="665">姚家园路</text>
<text x="646" y="578">积水潭</text><text x="708" y="578">鼓楼大街</text><text x="803" y="578">安定门</text><text x="864" y="578">雍和宫</text><text x="667" y="613">新街口</text><text x="718" y="623">什刹海</text><text x="813" y="625">北新桥</text><text x="882" y="636">东直门</text><text x="539" y="611">动物园</text><text x="426" y="623">国家图书馆</text><text x="626" y="634">西直门</text>
<text x="374" y="668">慈寿寺</text><text x="412" y="655">花园桥</text><text x="440" y="678">白石桥南</text><text x="544" y="657">二里沟</text><text x="556" y="678">车公庄西</text><text x="625" y="678">车公庄</text><text x="695" y="657">平安里</text><text x="722" y="680">北海北</text><text x="774" y="651">南锣鼓巷</text><text x="864" y="660">张自忠路</text><text x="882" y="690">朝阳门</text><text x="933" y="668">东四十条</text><text x="952" y="688">东大桥</text><text x="1022" y="688">呼家楼</text><text x="1053" y="709">金台路</text><text x="1022" y="727">金台夕照</text><text x="1062" y="746">红庙</text>
<text x="315" y="638">海淀</text><text x="301" y="653">五路居</text><text x="68" y="640">福寿岭</text><text x="153" y="640">亚疗桥</text><text x="240" y="640">田村北</text><text x="110" y="667">实兴桥</text><text x="195" y="667">巨山村</text><text x="300" y="690">田村</text><text x="230" y="682">廖公庄</text><text x="210" y="698">西黄村</text><text x="163" y="713">苹果园南路</text><text x="300" y="727">金沟河</text><text x="203" y="743">苹果园</text>
<text x="86" y="720">四道桥</text><text x="138" y="745">金安桥</text><text x="63" y="748">石龙路</text><text x="63" y="770">上岸村</text><text x="63" y="791">矿务局</text><text x="8" y="810">石门营</text><text x="72" y="832">小园</text>
<text x="390" y="710">西钓鱼台</text><text x="450" y="714">白堆子</text><text x="545" y="711">甘家口</text><text x="626" y="711">阜成门</text><text x="695" y="710">西四</text><text x="545" y="736">玉渊潭东门</text><text x="632" y="740">灵境胡同</text><text x="770" y="710">中国美术馆</text><text x="864" y="710">东四</text><text x="782" y="745">王府井北</text><text x="864" y="745">灯市口</text>
<text x="168" y="773">古城</text><text x="238" y="760">八宝山</text><text x="296" y="760">玉泉路</text><text x="216" y="785">八角</text><text x="210" y="801">游乐园</text><text x="328" y="785">五棵松</text><text x="365" y="760">万寿路</text><text x="416" y="782">公主坟</text><text x="477" y="745">军事</text><text x="465" y="761">博物馆</text><text x="542" y="761">木樨地</text><text x="558" y="783">南礼士路</text><text x="626" y="781">复兴门</text><text x="695" y="761">西单</text><text x="707" y="783">天安门西</text><text x="750" y="760">天安门东</text><text x="800" y="782">王府井</text><text x="863" y="782">东单</text><text x="932" y="782">建国门</text><text x="952" y="761">永安里</text><text x="1022" y="761">国贸</text><text x="1055" y="783">大望路</text><text x="1107" y="762">四惠</text>
<text x="1157" y="789">四惠东</text><text x="1196" y="764">高碑店</text><text x="1225" y="789">传媒大学</text><text x="1272" y="764">双桥</text><text x="1313" y="764">管庄</text><text x="1318" y="747">玉带河大街</text><text x="1360" y="779">八里桥</text><text x="1313" y="813">通州北苑</text><text x="1395" y="812">果园</text><text x="1368" y="850">九棵树</text><text x="1432" y="854">梨园</text><text x="1405" y="888">临河里</text><text x="1473" y="896">土桥</text>
<text x="1163" y="686">十里堡</text><text x="1201" y="686">褡裢坡</text><text x="1270" y="686">常营</text><text x="1323" y="686">物资学院</text><text x="1172" y="711">青年路</text><text x="1240" y="711">黄渠</text><text x="1304" y="711">草房</text><text x="1373" y="705">北关</text><text x="1390" y="723">新华大街</text><text x="1442" y="754">郝家府</text><text x="1508" y="754">东小营</text><text x="1417" y="778">杨坨</text><text x="1468" y="778">东部新城</text><text x="1143" y="727">红领巾桥</text><text x="1143" y="747">慈云寺</text>
<text x="595" y="820">长椿街</text><text x="648" y="829">宣武门</text><text x="710" y="830">和平门</text><text x="782" y="830">前门</text><text x="864" y="830">崇文门</text><text x="918" y="818">北京站</text>
<text x="247" y="837">莲花桥</text><text x="367" y="837">莲花桥</text><text x="434" y="838">北京西站</text><text x="247" y="875">小瓦窑</text><text x="259" y="914">小屯</text><text x="367" y="891">六里桥</text><text x="445" y="889">六里桥东</text><text x="503" y="884">湾子</text><text x="543" y="863">达官营</text><text x="584" y="884">广安门内</text><text x="647" y="862">菜市口</text><text x="706" y="884">虎坊桥</text><text x="777" y="882">珠市口</text><text x="808" y="860">桥湾</text><text x="864" y="882">磁器口</text><text x="893" y="860">广渠门内</text><text x="937" y="884">广渠门外</text><text x="1022" y="862">双井</text><text x="1052" y="883">九龙山</text><text x="1143" y="862">大郊亭</text>
<text x="545" y="910">红莲南里</text><text x="697" y="913">陶然亭</text><text x="780" y="912">天桥</text><text x="864" y="912">天坛东门</text><text x="985" y="906">劲松</text><text x="1050" y="906">平乐园</text><text x="972" y="931">潘家园</text><text x="1062" y="931">松榆</text><text x="1189" y="885">百子湾</text><text x="1189" y="905">化工</text><text x="1189" y="925">南楼梓庄</text>
<text x="118" y="945">园博园</text><text x="187" y="945">大瓦窑</text><text x="250" y="945">郭庄子</text><text x="310" y="945">大井</text><text x="74" y="970">张郭庄</text><text x="340" y="969">七里庄</text><text x="415" y="947">西局</text><text x="437" y="971">东管头</text><text x="470" y="948">丽泽商务区</text><text x="548" y="945">菜户营</text><text x="577" y="970">西铁营</text><text x="622" y="945">右安门外</text><text x="635" y="968">北京南站</text><text x="705" y="945">陶然桥</text><text x="797" y="945">安乐林</text><text x="864" y="947">蒲黄榆</text><text x="940" y="945">方庄</text><text x="972" y="968">十里河</text><text x="1035" y="970">南八里庄</text><text x="1105" y="952">四方桥</text><text x="1112" y="970">欢乐谷景区</text>
<text x="1232" y="945">王四营</text><text x="1302" y="945">豆各庄</text><text x="1370" y="930">万盛南街</text><text x="1383" y="945">西口</text><text x="1417" y="945">云景东路</text><text x="1518" y="945">高楼金</text><text x="1202" y="970">垡头桥</text><text x="1262" y="970">五方桥东</text><text x="1338" y="970">黑庄户</text><text x="1407" y="970">后场西路</text><text x="1490" y="970">小马庄</text><text x="1516" y="988">施园</text><text x="1472" y="1023">环球影城</text>
<text x="1230" y="998">双合</text><text x="1197" y="1025">垡头</text><text x="1282" y="1014">焦化厂</text>
<text x="247" y="978">五里店</text><text x="247" y="998">程庄子</text><text x="247" y="1019">杜家坎</text><text x="314" y="996">丰台东大街</text><text x="327" y="1022">丰台南路</text><text x="415" y="1000">泥洼</text><text x="530" y="1005">丰益桥南</text><text x="178" y="1038">宛平城</text><text x="215" y="1064">榆树庄</text><text x="262" y="1040">看丹</text><text x="310" y="1040">富丰桥</text><text x="422" y="1049">丰台站</text><text x="526" y="1054">首经贸</text><text x="586" y="1029">纪家庙</text><text x="647" y="1030">角门西</text><text x="627" y="1054">草桥</text><text x="718" y="1054">角门东</text><text x="777" y="1032">大红门</text><text x="796" y="1054">石榴庄</text><text x="864" y="1030">宋家庄</text><text x="920" y="1053">成寿寺</text><text x="1007" y="1025">分钟寺</text><text x="777" y="1075">大红门桥</text>
<text x="697" y="1002">马家堡</text><text x="864" y="999">刘家窑</text><text x="778" y="970">永定门外</text><text x="780" y="987">木樨园桥北</text><text x="780" y="1010">木樨园桥南</text><text x="864" y="1070">肖村</text>
<text x="294" y="1078">科丰桥</text><text x="393" y="1075">科怡路</text><text x="316" y="1105">丰台科技园</text><text x="428" y="1108">五圈</text><text x="447" y="1135">西白家庄</text><text x="530" y="1094">四环路</text><text x="340" y="1136">郭公庄</text><text x="392" y="1153">大葆台</text><text x="330" y="1155">稻田</text><text x="374" y="1177">长阳</text><text x="288" y="1175">篱笆房</text><text x="285" y="1193">广阳城</text><text x="336" y="1213">良乡大学城北</text><text x="334" y="1230">良乡大学城</text><text x="330" y="1248">良乡大学城西</text><text x="256" y="1236">苏庄</text><text x="272" y="1260">良乡南关</text><text x="219" y="1260">阎村北</text><text x="178" y="1236">大紫草坞</text><text x="158" y="1260">阎村</text><text x="128" y="1260">星城</text><text x="90" y="1236">顾八路</text><text x="61" y="1260">饶乐府</text><text x="42" y="1214">老城区北</text><text x="32" y="1195">燕化</text>
<text x="682" y="1074" class="e">公益西桥</text><text x="698" y="1095">新宫</text>
<text x="653" y="1114" class="e">西红门</text><text x="633" y="1134" class="e">高米店北</text><text x="633" y="1151" class="e">高米店南</text><text x="633" y="1167" class="e">枣园</text><text x="633" y="1185" class="e">清源路</text><text x="662" y="1199">黄村西大街</text><text x="662" y="1215">黄村火车站</text><text x="633" y="1232" class="e">义和庄</text><text x="633" y="1248" class="e">生物医药基地</text><text x="633" y="1265" class="e">天宫院</text>
<text x="742" y="1097">和义</text><text x="788" y="1102">西洼地</text><text x="804" y="1130" class="e">六营门</text><text x="824" y="1148" class="e">五福堂</text><text x="833" y="1168" class="e">德茂</text><text x="858" y="1184" class="e">瀛海</text>
<text x="900" y="1092">小红门</text><text x="951" y="1098">亦庄</text><text x="940" y="1113">文化园</text><text x="882" y="1131">旧宫</text><text x="898" y="1157">亦庄桥</text><text x="1020" y="1130">万源街</text><text x="985" y="1175">荣京东街</text><text x="1018" y="1202">荣昌东街</text><text x="1108" y="1212">同济南路</text><text x="1137" y="1188">经海路</text><text x="1168" y="1166">次渠南</text><text x="1198" y="1144">次渠</text><text x="1228" y="1124">亦庄火车站</text>
</g>
</svg>
</body></html>
